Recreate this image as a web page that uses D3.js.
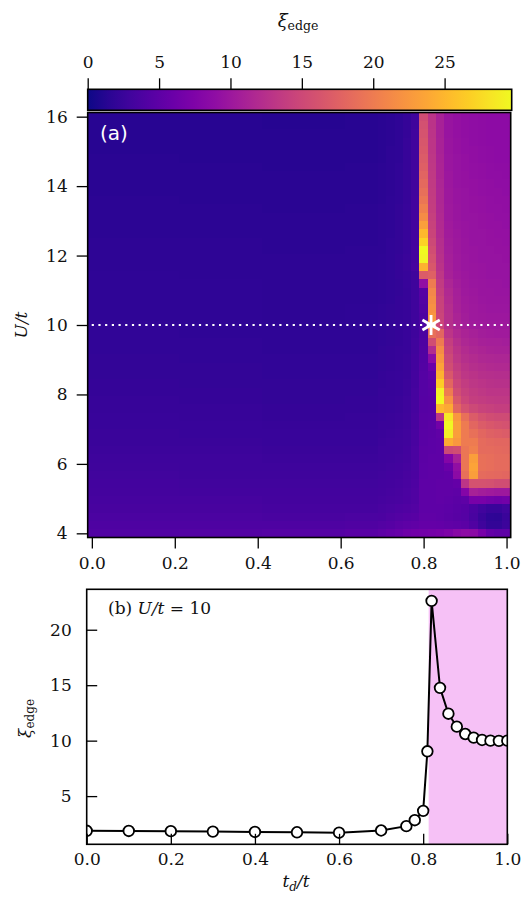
<!DOCTYPE html>
<html>
<head>
<meta charset="utf-8">
<script src="https://cdn.jsdelivr.net/npm/d3@7"></script>
<style>
  body { margin: 0; background: #fff; }
  svg { display: block; }
</style>
</head>
<body>
<svg id="fig" width="527" height="899"></svg>
<script>
// ---- data ----
// heatmap rows, top (U/t = 16) to bottom (U/t = 4), 51 columns t_d/t = 0 .. 1
// "v*n" means n cells of value v
const heatRows = [
  "1.30*11 1.28*10 1.25*10 1.28*4 1.40 1.55 1.75 2.15 2.90 15.5 12.8 11.0 9.6 9.2 9.0 8.9 8.8 8.7 8.6 8.6",
  "1.32*11 1.30*10 1.27*10 1.30*4 1.42 1.57 1.77 2.17 2.90 15.8 12.8 11.0 9.6 9.2 9.0 8.9 8.8 8.7 8.6 8.6",
  "1.34*11 1.32*10 1.29*10 1.32*4 1.44 1.59 1.79 2.19 2.92 16.1 12.9 11.0 9.6 9.2 9.0 8.9 8.8 8.7 8.6 8.6",
  "1.36*11 1.34*10 1.31*10 1.34*4 1.46 1.61 1.81 2.21 2.92 16.4 13.0 11.1 9.7 9.3 9.1 8.9 8.8 8.7 8.7 8.6",
  "1.38*11 1.36*10 1.33*10 1.36*4 1.48 1.63 1.83 2.22 2.94 16.7 13.1 11.1 9.7 9.3 9.1 9.0 8.9 8.8 8.7 8.7",
  "1.40*11 1.38*10 1.35*10 1.38*4 1.50 1.65 1.85 2.24 2.95 17.0 13.2 11.2 9.8 9.4 9.2 9.0 8.9 8.8 8.7 8.7",
  "1.42*11 1.40*10 1.37*10 1.40*4 1.52 1.67 1.87 2.25 2.96 17.4 13.3 11.3 9.8 9.4 9.2 9.1 9.0 8.9 8.8 8.8",
  "1.45*11 1.43*10 1.40*10 1.43*4 1.55 1.70 1.90 2.27 2.97 17.8 13.4 11.3 9.9 9.5 9.3 9.1 9.0 8.9 8.9 8.8",
  "1.48*11 1.46*10 1.42*10 1.45*4 1.57 1.72 1.92 2.28 2.98 18.3 13.5 11.4 9.9 9.5 9.3 9.2 9.1 9.0 8.9 8.9",
  "1.50*11 1.48*10 1.44*10 1.47*4 1.59 1.74 1.94 2.30 3.00 18.8 13.6 11.5 10.0 9.6 9.4 9.2 9.1 9.0 9.0 8.9",
  "1.52*11 1.50*10 1.46*10 1.49*4 1.61 1.76 1.96 2.32 3.02 19.5 13.8 11.6 10.0 9.6 9.4 9.3 9.2 9.1 9.0 9.0",
  "1.55*11 1.53*10 1.49*10 1.52*4 1.63 1.78 1.98 2.33 3.04 20.5 13.9 11.7 10.1 9.7 9.5 9.3 9.2 9.1 9.1 9.0",
  "1.57*11 1.55*10 1.51*10 1.54*4 1.65 1.80 2.00 2.35 3.06 21.5 14.1 11.8 10.2 9.7 9.5 9.4 9.3 9.2 9.1 9.1",
  "1.60*11 1.58*10 1.54*10 1.57*4 1.68 1.82 2.02 2.37 3.08 23.0 14.3 11.9 10.3 9.8 9.6 9.4 9.3 9.2 9.2 9.1",
  "1.62*11 1.60*10 1.56*10 1.59*4 1.70 1.84 2.04 2.39 3.10 25.0 14.6 12.0 10.4 9.9 9.6 9.5 9.4 9.3 9.2 9.2",
  "1.65*11 1.63*10 1.58*10 1.61*4 1.72 1.86 2.06 2.41 3.13 27.0 15.0 12.2 10.5 10.0 9.7 9.5 9.4 9.3 9.3 9.2",
  "1.67*11 1.65*10 1.60*10 1.63*4 1.74 1.88 2.08 2.43 3.16 29.7 15.5 12.4 10.6 10.0 9.7 9.6 9.5 9.4 9.3 9.3",
  "1.70*11 1.68*10 1.63*10 1.66*4 1.76 1.90 2.10 2.45 3.20 29.3 16.0 12.6 10.7 10.1 9.8 9.6 9.5 9.4 9.4 9.3",
  "1.72*11 1.70*10 1.65*10 1.68*4 1.78 1.92 2.12 2.47 3.25 24.5 16.5 12.8 10.8 10.2 9.8 9.7 9.6 9.5 9.4 9.4",
  "1.75*11 1.73*10 1.67*10 1.70*4 1.79 1.93 2.10 2.35 2.90 17.0 17.5 13.2 11.0 10.3 9.9 9.7 9.6 9.5 9.5 9.5",
  "1.77*11 1.75*10 1.69*10 1.72*4 1.80 1.94 2.08 2.33 2.88 9.0 20.0 13.6 11.4 10.5 10.0 9.8 9.7 9.6 9.6 9.5",
  "1.79*11 1.77*10 1.70*10 1.73*4 1.82 1.95 2.08 2.32 2.86 4.5 21.0 14.0 11.8 10.7 10.1 9.9 9.7 9.7 9.6 9.6",
  "1.81*11 1.79*10 1.71*10 1.74*4 1.84 1.96 2.09 2.31 2.85 4.2 21.5 14.3 12.0 10.9 10.3 10.0 9.8 9.7 9.7 9.7",
  "1.83*11 1.81*10 1.72*10 1.75*4 1.86 1.98 2.09 2.30 2.84 4.0 22.0 14.5 12.2 11.0 10.4 10.1 9.9 9.8 9.8 9.8",
  "1.85*11 1.83*10 1.73*10 1.76*4 1.88 1.99 2.10 2.30 2.83 3.8 22.4 14.7 12.3 11.2 10.5 10.2 10.0 9.9 9.9 9.9",
  "1.87*11 1.80*10 1.72*10 1.75*4 1.90 2.00 2.10 2.30 2.83 3.67 22.6 14.8 12.4 11.3 10.6 10.3 10.1 10.0 10.0 10.0",
  "1.90*11 1.85*10 1.76*10 1.78*4 1.93 2.03 2.15 2.35 2.90 3.8 19.0 18.0 13.0 11.8 11.2 10.8 10.5 10.4 10.3 10.3",
  "1.93*11 1.88*10 1.79*10 1.81*4 1.96 2.06 2.18 2.38 2.95 3.9 15.5 20.0 14.0 12.3 11.6 11.2 10.9 10.7 10.7 10.6",
  "1.96*11 1.91*10 1.82*10 1.84*4 2.00 2.10 2.22 2.42 3.00 4.0 12.0 21.5 14.5 12.8 12.0 11.6 11.3 11.1 11.0 11.0",
  "2.00*11 1.95*10 1.86*10 1.88*4 2.04 2.14 2.26 2.46 3.05 4.1 8.5 22.5 15.0 13.2 12.4 12.0 11.7 11.5 11.4 11.4",
  "2.04*11 1.99*10 1.90*10 1.92*4 2.08 2.18 2.30 2.50 3.10 4.2 6.0 23.5 15.5 13.7 12.8 12.4 12.1 11.9 11.8 11.8",
  "2.08*11 2.03*10 1.94*10 1.96*4 2.12 2.22 2.34 2.54 3.15 4.3 5.0 24.5 16.5 14.2 13.2 12.8 12.5 12.3 12.2 12.2",
  "2.12*11 2.07*10 1.98*10 2.00*4 2.16 2.26 2.38 2.58 3.20 4.4 4.8 26.5 18.0 14.8 13.7 13.2 12.9 12.7 12.6 12.6",
  "2.17*11 2.12*10 2.03*10 2.05*4 2.21 2.31 2.43 2.63 3.25 4.4 4.7 29.2 20.0 15.5 14.2 13.6 13.3 13.1 13.0 13.0",
  "2.22*11 2.17*10 2.08*10 2.10*4 2.26 2.36 2.48 2.68 3.30 4.5 4.6 29.7 22.0 16.5 14.8 14.0 13.7 13.5 13.4 13.4",
  "2.28*11 2.23*10 2.14*10 2.16*4 2.32 2.42 2.54 2.74 3.35 4.5 4.6 25.0 24.0 18.0 16.0 15.0 14.5 14.2 14.0 14.0",
  "2.34*11 2.29*10 2.20*10 2.22*4 2.38 2.48 2.60 2.80 3.40 4.6 4.7 13.0 28.5 22.5 19.0 17.0 16.0 15.5 15.2 15.2",
  "2.40*11 2.35*10 2.26*10 2.28*4 2.44 2.54 2.66 2.86 3.45 4.6 4.8 6.5 29.5 23.0 20.0 18.0 17.0 16.5 16.2 16.0",
  "2.47*11 2.42*10 2.33*10 2.35*4 2.51 2.61 2.73 2.93 3.50 4.7 4.8 5.2 29.0 23.0 20.0 19.0 18.0 17.5 17.2 17.0",
  "2.55*11 2.50*10 2.41*10 2.43*4 2.59 2.69 2.81 3.01 3.55 4.7 4.9 5.0 24.0 22.5 20.0 20.0 18.5 18.2 18.0 18.0",
  "2.63*11 2.58*10 2.49*10 2.51*4 2.67 2.77 2.89 3.09 3.60 4.8 4.9 5.0 15.0 15.5 19.5 20.5 18.5 18.5 18.3 18.2",
  "2.72*11 2.67*10 2.58*10 2.60*4 2.76 2.86 2.98 3.18 3.65 4.8 5.0 5.0 8.0 11.0 19.5 23.0 19.0 18.7 18.5 18.5",
  "2.82*11 2.77*10 2.68*10 2.70*4 2.86 2.96 3.08 3.28 3.70 4.9 5.0 5.1 6.0 9.0 19.5 23.5 19.0 18.7 18.5 18.5",
  "2.93*11 2.88*10 2.79*10 2.81*4 2.97 3.07 3.19 3.39 3.75 4.9 5.0 5.1 5.3 8.5 19.0 23.0 18.5 18.3 18.2 18.0",
  "3.05*11 3.00*10 2.91*10 2.93*4 3.09 3.19 3.31 3.51 3.85 5.0 5.1 5.2 5.2 5.5 13.0 16.0 16.0 15.8 15.5 15.5",
  "3.18*11 3.13*10 3.04*10 3.06*4 3.22 3.32 3.44 3.64 3.95 5.0 5.1 5.2 5.2 5.0 8.0 11.0 10.5 10.3 10.0 10.0",
  "3.32*11 3.27*10 3.18*10 3.20*4 3.36 3.46 3.58 3.78 4.05 5.0 5.1 5.2 5.1 4.8 5.0 7.0 7.0 6.5 6.3 6.5",
  "3.48*11 3.43*10 3.34*10 3.36*4 3.55 3.68 3.85 4.05 4.25 5.0 5.1 5.0 4.9 4.7 4.5 3.8 3.0 2.5 2.5 3.0",
  "3.65*11 3.60*10 3.56*10 3.62*4 3.80 3.98 4.20 4.45 4.60 5.2 5.2 5.0 4.8 4.6 4.3 3.5 2.5 1.8 1.7 2.5",
  "3.85*11 3.85*10 3.90*10 4.00*4 4.20 4.50 4.80 5.10 5.20 5.5 5.5 5.4 5.2 5.0 4.8 4.0 2.8 2.0 2.0 2.6",
  "4.10*11 4.20*10 4.40*10 4.70*4 5.00 5.40 5.80 6.20 6.40 6.5 6.8 7.0 7.5 8.3 8.6 8.5 7.0 5.5 5.0 5.0"
]
const uGrid = d3.range(51).map(j => 16 - 0.24 * j)
const tdGrid = d3.range(51).map(i => i * 0.02)
const colorMax = 29.7

// panel (b): cut at U/t = 10
const tdLine = [0, 0.1, 0.2, 0.3, 0.4, 0.5, 0.6, 0.7, 0.76, 0.78, 0.80, 0.81, 0.82, 0.84, 0.86, 0.88, 0.90, 0.92, 0.94, 0.96, 0.98, 1.0]
const xiLine = [1.87, 1.86, 1.84, 1.80, 1.77, 1.74, 1.70, 1.90, 2.29, 2.83, 3.67, 9.04, 22.6, 14.76, 12.43, 11.26, 10.6, 10.27, 10.06, 10.0, 9.98, 10.0]
const tdCritical = 0.813
const uCut = 10

const uTicks = [4, 6, 8, 10, 12, 14, 16]
const tdTicks = [0, 0.2, 0.4, 0.6, 0.8, 1.0]
const cbTicks = [0, 5, 10, 15, 20, 25]
const xiTicks = [5, 10, 15, 20]

// ---- drawing ----
const serif = "'DejaVu Serif', serif"
const svg = d3.select('#fig')
svg.append('rect').attr('width', 527).attr('height', 899).attr('fill', '#fff')

function parseRow(s) {
    const out = []
    s.trim().split(/\s+/).forEach(tok => {
        const [v, n] = tok.split('*')
        for (let k = 0; k < (n ? +n : 1); k++) out.push(+v)
    })
    return out
}

function styleAxis(g, size) {
    g.attr('font-family', serif).attr('font-size', size)
    g.select('.domain').remove()
    g.selectAll('.tick line').attr('stroke', '#000').attr('stroke-width', 1.3)
    g.selectAll('.tick text').attr('fill', '#111').attr('font-family', serif).attr('font-size', size)
}

// top panel: heatmap
const hm = {left: 87.7, right: 510.7, top: 112.5, bottom: 537.5}
const x1 = d3.scaleLinear().domain([-0.01, 1.01]).range([hm.left, hm.right])
const y1 = d3.scaleLinear().domain([3.88, 16.12]).range([hm.bottom, hm.top])
const color = d3.scaleSequential(d3.interpolatePlasma).domain([0, colorMax])

let cells = []
heatRows.forEach((row, j) => {
    parseRow(row).forEach((v, i) => cells.push({u: uGrid[j], td: tdGrid[i], v: v}))
})
const cw = x1(0.02) - x1(0), ch = y1(0) - y1(0.24)
svg.append('g').attr('shape-rendering', 'crispEdges')
    .selectAll('rect').data(cells).join('rect')
    .attr('x', d => x1(d.td - 0.01))
    .attr('y', d => y1(d.u + 0.12))
    .attr('width', d => d.td > 0.99 ? cw : cw + 0.6)
    .attr('height', d => d.u < 4.1 ? ch : ch + 0.6)
    .attr('fill', d => color(d.v))

// cut line and critical point
svg.append('line')
    .attr('x1', hm.left + 4).attr('x2', hm.right - 2)
    .attr('y1', y1(uCut)).attr('y2', y1(uCut))
    .attr('stroke', '#fff').attr('stroke-width', 2.2).attr('stroke-dasharray', '2.2,4.5')
const sx = x1(tdCritical + 0.005), sy = y1(uCut), sr = 10
svg.append('path')
    .attr('d', [90, 30, 150].map(a => {
        const r = a * Math.PI / 180
        return `M${sx - sr * Math.cos(r)},${sy + sr * Math.sin(r)}L${sx + sr * Math.cos(r)},${sy - sr * Math.sin(r)}`
    }).join(''))
    .attr('stroke', '#fff').attr('stroke-width', 2.8).attr('fill', 'none')

svg.append('text').attr('x', 100).attr('y', 140)
    .attr('font-family', "'DejaVu Sans', sans-serif").attr('font-size', 20).attr('fill', '#fff')
    .text('(a)')

svg.append('rect').attr('x', hm.left).attr('y', hm.top)
    .attr('width', hm.right - hm.left).attr('height', hm.bottom - hm.top)
    .attr('fill', 'none').attr('stroke', '#000').attr('stroke-width', 1.6)

const gy1 = svg.append('g').attr('transform', `translate(${hm.left},0)`)
    .call(d3.axisLeft(y1).tickValues(uTicks).tickSize(11).tickPadding(9).tickFormat(d3.format('d')))
styleAxis(gy1, 17)
const gx1 = svg.append('g').attr('transform', `translate(0,${hm.bottom})`)
    .call(d3.axisBottom(x1).tickValues(tdTicks).tickSize(11).tickPadding(8).tickFormat(d3.format('.1f')))
styleAxis(gx1, 17)

svg.append('text')
    .attr('transform', `translate(27,${y1(10)}) rotate(-90)`)
    .attr('text-anchor', 'middle').attr('font-family', serif).attr('font-style', 'italic')
    .attr('font-size', 17).attr('fill', '#111')
    .text('U/t')

// colorbar
const cb = {left: 87.7, right: 511.7, top: 89.3, bottom: 110.3}
const cx = d3.scaleLinear().domain([0, colorMax]).range([cb.left, cb.right])
const grad = svg.append('defs').append('linearGradient').attr('id', 'cbgrad')
d3.range(0, 1.0001, 0.05).forEach(t => {
    grad.append('stop').attr('offset', t).attr('stop-color', d3.interpolatePlasma(t))
})
svg.append('rect').attr('x', cb.left).attr('y', cb.top)
    .attr('width', cb.right - cb.left).attr('height', cb.bottom - cb.top)
    .attr('fill', 'url(#cbgrad)').attr('stroke', '#000').attr('stroke-width', 1.6)
const gcb = svg.append('g').attr('transform', `translate(0,${cb.top})`)
    .call(d3.axisTop(cx).tickValues(cbTicks).tickSize(11).tickPadding(10.5))
styleAxis(gcb, 17)
const cbl = svg.append('text').attr('x', 298).attr('y', 27)
    .attr('text-anchor', 'middle').attr('font-family', serif).attr('fill', '#111')
cbl.append('tspan').attr('font-style', 'italic').attr('font-size', 18).text('ξ')
cbl.append('tspan').attr('font-size', 12.5).attr('dy', 3).text('edge')

// bottom panel: line cut
const bt = {left: 86.7, right: 507.3, top: 589.3, bottom: 844.3}
const x2 = d3.scaleLinear().domain([0, 1]).range([bt.left, bt.right])
const y2 = d3.scaleLinear().domain([0.655, 23.645]).range([bt.bottom, bt.top])

svg.append('clipPath').attr('id', 'clipb').append('rect')
    .attr('x', bt.left).attr('y', bt.top).attr('width', bt.right - bt.left).attr('height', bt.bottom - bt.top)

svg.append('rect').attr('x', x2(tdCritical)).attr('y', bt.top)
    .attr('width', x2(1) - x2(tdCritical)).attr('height', bt.bottom - bt.top)
    .attr('fill', '#f6c1f6')

const pts = tdLine.map((t, i) => ({t: t, xi: xiLine[i]}))
const plot = svg.append('g').attr('clip-path', 'url(#clipb)')
plot.append('path').datum(pts)
    .attr('d', d3.line().x(d => x2(d.t)).y(d => y2(d.xi)))
    .attr('fill', 'none').attr('stroke', '#000').attr('stroke-width', 2)
plot.selectAll('circle').data(pts).join('circle')
    .attr('cx', d => x2(d.t)).attr('cy', d => y2(d.xi)).attr('r', 5.3)
    .attr('fill', '#fff').attr('stroke', '#000').attr('stroke-width', 1.8)

const gy2 = svg.append('g').attr('transform', `translate(${bt.left},0)`)
    .call(d3.axisLeft(y2).tickValues(xiTicks).tickSize(-10.5).tickPadding(15).tickFormat(d3.format('d')))
styleAxis(gy2, 17)
const gx2 = svg.append('g').attr('transform', `translate(0,${bt.bottom})`)
    .call(d3.axisBottom(x2).tickValues(tdTicks).tickSize(-10.5).tickPadding(9).tickFormat(d3.format('.1f')))
styleAxis(gx2, 17)

svg.append('rect').attr('x', bt.left).attr('y', bt.top)
    .attr('width', bt.right - bt.left).attr('height', bt.bottom - bt.top)
    .attr('fill', 'none').attr('stroke', '#000').attr('stroke-width', 1.6)

const lb = svg.append('text').attr('x', 108).attr('y', 614)
    .attr('font-family', serif).attr('font-size', 17).attr('fill', '#111')
lb.append('tspan').text('(b) ')
lb.append('tspan').attr('font-style', 'italic').text('U/t')
lb.append('tspan').text(' = 10')

const xl = svg.append('text').attr('x', 296).attr('y', 887)
    .attr('text-anchor', 'middle').attr('font-family', serif).attr('font-style', 'italic')
    .attr('font-size', 17).attr('fill', '#111')
xl.append('tspan').text('t')
xl.append('tspan').attr('font-size', 12).attr('dy', 4).text('d')
xl.append('tspan').attr('dy', -4).text('/t')

const yl = svg.append('text')
    .attr('transform', `translate(31,${y2(12)}) rotate(-90)`)
    .attr('text-anchor', 'middle').attr('font-family', serif).attr('fill', '#111')
yl.append('tspan').attr('font-style', 'italic').attr('font-size', 17).text('ξ')
yl.append('tspan').attr('font-size', 12).attr('dy', 3).text('edge')
</script>
</body>
</html>
